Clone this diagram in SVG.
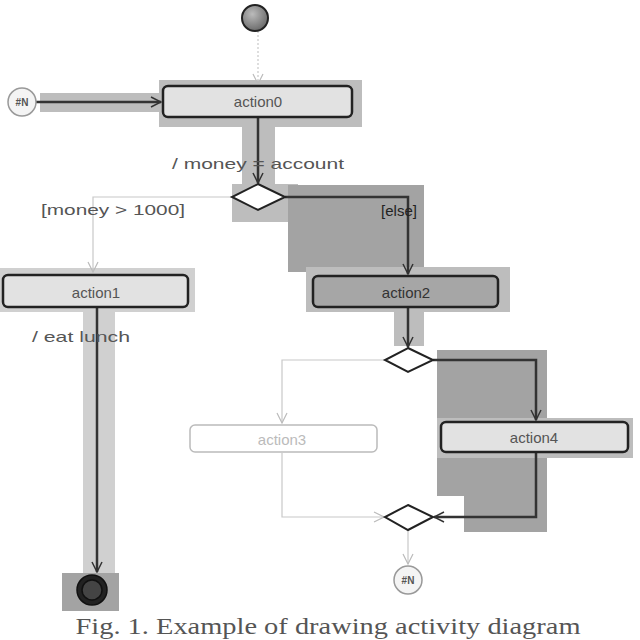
<svg xmlns="http://www.w3.org/2000/svg" width="640" height="640" viewBox="0 0 640 640">
<defs>
<style>
.lbl{font-family:"Liberation Sans",Arial,sans-serif;font-size:14px;fill:#555;text-anchor:middle;dominant-baseline:central}
.act{stroke:#222;stroke-width:2.5;fill:#e2e2e2}
.hl{fill:#bdbdbd}
.hl3{fill:#d0d0d0}
.hl2{fill:#a3a3a3}
.thin{stroke:#c8c8c8;stroke-width:1.2;fill:none}
.thick{stroke:#333;stroke-width:2.5;fill:none}
.dia{fill:#fff;stroke:#222;stroke-width:2}
.cap{font-family:"Liberation Serif","Times New Roman",serif;font-size:22px;fill:#555;text-anchor:middle}
</style>
<marker id="arr" viewBox="0 0 12 12" refX="11" refY="6" markerWidth="12" markerHeight="12" markerUnits="userSpaceOnUse" orient="auto">
<path d="M1,1 L11,6 L1,11" fill="none" stroke="#333" stroke-width="1.5"/>
</marker>
<marker id="arrl" viewBox="0 0 12 12" refX="11" refY="6" markerWidth="12" markerHeight="12" markerUnits="userSpaceOnUse" orient="auto">
<path d="M1,1 L11,6 L1,11" fill="none" stroke="#bbb" stroke-width="1.2"/>
</marker>
<radialGradient id="g0" cx="0.4" cy="0.35" r="0.7">
<stop offset="0" stop-color="#bbb"/><stop offset="1" stop-color="#666"/>
</radialGradient>
</defs>

<g id="highlights">
<rect class="hl" x="159" y="80" width="203" height="47"/>
<rect class="hl" x="242" y="127" width="33" height="58"/>
<rect class="hl" x="232" y="184" width="66" height="38"/>
<rect class="hl" x="40" y="93" width="125" height="19"/>
<rect class="hl2" x="288" y="185" width="136" height="87"/>
<rect class="hl" x="306" y="267" width="204" height="45"/>
<rect class="hl" x="394" y="312" width="30" height="34"/>
<rect class="hl3" x="0" y="268" width="195" height="44"/>
<rect class="hl3" x="83" y="312" width="32" height="262"/>
<rect class="hl2" x="437" y="350" width="110" height="146"/>
<rect class="hl2" x="464" y="496" width="83" height="36"/>
<rect class="hl" x="437" y="418" width="196" height="40"/>
<rect class="hl2" x="62" y="573" width="57" height="38"/>
</g>

<g id="connectors">
<path class="thin" d="M258,31 V84" stroke-dasharray="2,2" marker-end="url(#arrl)"/>
<path class="thick" d="M36,102 H161" marker-end="url(#arr)"/>
<path class="thick" d="M258,118 V183" marker-end="url(#arr)"/>
<path class="thin" d="M232,197 H93 V272" marker-end="url(#arrl)"/>
<path class="thick" d="M285,197 H408 V274" marker-end="url(#arr)"/>
<path class="thick" d="M97,308 V572" marker-end="url(#arr)"/>
<path class="thick" d="M408,308 V347" marker-end="url(#arr)"/>
<path class="thin" d="M385,360 H282 V423" marker-end="url(#arrl)"/>
<path class="thick" d="M433,360 H536 V420" marker-end="url(#arr)"/>
<path class="thin" d="M282,453 V517 H384" marker-end="url(#arrl)"/>
<path class="thick" d="M536,453 V517 H434" marker-end="url(#arr)"/>
<path class="thin" d="M408,530 V564" marker-end="url(#arrl)"/>
</g>

<g id="initial"><circle cx="255" cy="18" r="13" fill="url(#g0)" stroke="#222" stroke-width="2"/></g>

<g id="connIn"><circle cx="22" cy="102" r="14" fill="#f4f4f4" stroke="#999" stroke-width="1.5"/><text class="lbl" x="22" y="102" style="font-size:10px;font-weight:bold">#N</text></g>

<g id="action0"><rect class="act" x="163" y="86" width="189" height="31" rx="5"/><text class="lbl" x="258" y="101" style="font-size:15px">action0</text></g>

<g id="decision1"><polygon class="dia" points="258,184 285,197 258,210 232,197"/></g>

<g id="action1"><rect class="act" x="3" y="275" width="185" height="32" rx="5"/><text class="lbl" x="96" y="292" style="font-size:15px">action1</text></g>

<g id="action2"><rect class="act" x="313" y="276" width="185" height="31" rx="5" style="fill:#a6a6a6"/><text class="lbl" x="406" y="292" style="fill:#333;font-size:15px">action2</text></g>

<g id="decision2"><polygon class="dia" points="408,348 433,360 408,372 385,360" stroke="#444" stroke-width="1.5"/></g>

<g id="action3"><rect x="190" y="425" width="187" height="27" rx="5" fill="#fff" stroke="#bbb" stroke-width="1.5"/><text class="lbl" x="282" y="439" style="fill:#bbb;font-size:15px">action3</text></g>

<g id="action4"><rect class="act" x="441" y="422" width="187" height="30" rx="5"/><text class="lbl" x="534" y="437" style="font-size:15px">action4</text></g>

<g id="merge"><polygon class="dia" points="408,505 433,517 408,530 385,517" stroke="#555" stroke-width="1.3"/></g>

<g id="connOut"><circle cx="408" cy="580" r="14" fill="#f4f4f4" stroke="#999" stroke-width="1.5"/><text class="lbl" x="408" y="580" style="font-size:10px;font-weight:bold">#N</text></g>

<g id="final"><circle cx="92" cy="590" r="15" fill="#222" stroke="#111" stroke-width="1.5"/><circle cx="92" cy="590" r="10" fill="#444" stroke="#111" stroke-width="1.5"/></g>

<g id="labels">
<text class="lbl" x="258" y="163" style="font-size:15px" textLength="172" lengthAdjust="spacingAndGlyphs">/ money = account</text>
<text class="lbl" x="113" y="209" style="font-size:15px" textLength="144" lengthAdjust="spacingAndGlyphs">[money &gt; 1000]</text>
<text class="lbl" x="399" y="210" style="font-size:15px;fill:#222">[else]</text>
<text class="lbl" x="81" y="336" style="font-size:15px" textLength="98" lengthAdjust="spacingAndGlyphs">/ eat lunch</text>
</g>

<text class="cap" x="328" y="634" style="font-size:24px" textLength="505" lengthAdjust="spacingAndGlyphs">Fig. 1. Example of drawing activity diagram</text>
</svg>
